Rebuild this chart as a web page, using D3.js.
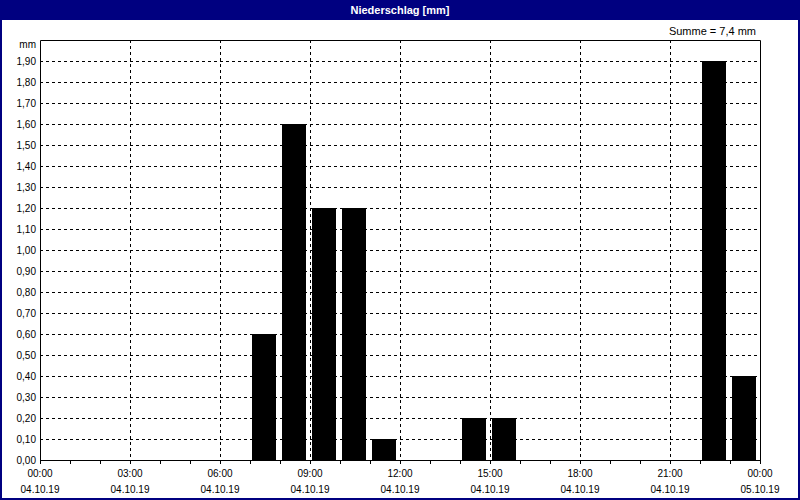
<!DOCTYPE html>
<html><head><meta charset="utf-8">
<script src="https://cdn.jsdelivr.net/npm/d3@7"></script>
<style>body{margin:0;background:#fff}svg{display:block}text{font-family:"Liberation Sans",Arial,sans-serif}</style>
</head><body><svg id="c" width="800" height="500"></svg>
<script>
const hours = [0,1,2,3,4,5,6,7,8,9,10,11,12,13,14,15,16,17,18,19,20,21,22,23];
const values = [0,0,0,0,0,0,0,0.6,1.6,1.2,1.2,0.1,0,0,0.2,0.2,0,0,0,0,0,0,1.9,0.4];
const xTickTimes = ["00:00","03:00","06:00","09:00","12:00","15:00","18:00","21:00","00:00"];
const xTickDates = ["04.10.19","04.10.19","04.10.19","04.10.19","04.10.19","04.10.19","04.10.19","04.10.19","05.10.19"];
const yTicks = d3.range(0, 20).map(i => i / 10);
const title = "Niederschlag [mm]";
const unit = "mm";
const sumText = "Summe = 7,4 mm";

const svg = d3.select("#c");
const L = 40, R = 760, T = 40, B = 460;
const x = d3.scaleLinear().domain([0, 24]).range([L, R]);
const y = d3.scaleLinear().domain([0, 2.0]).range([B, T]);

// frame
svg.append("rect").attr("x",1).attr("y",1).attr("width",798).attr("height",498)
  .attr("fill","#fff").attr("stroke","#000080").attr("stroke-width",2);
svg.append("rect").attr("x",0).attr("y",0).attr("width",800).attr("height",20).attr("fill","#000080");
svg.append("text").attr("x",400).attr("y",14).attr("text-anchor","middle")
  .attr("fill","#fff").attr("font-size",11).attr("font-weight","bold").text(title);
svg.append("text").attr("x",756).attr("y",35).attr("text-anchor","end")
  .attr("font-size",11).text(sumText);

// grid
const fmt = v => d3.format(".2f")(v).replace(".", ",");
svg.append("g").selectAll("line").data(yTicks.filter(d => d > 0)).join("line")
  .attr("x1",L).attr("x2",R).attr("y1",d=>Math.round(y(d))+0.5).attr("y2",d=>Math.round(y(d))+0.5)
  .attr("stroke","#000").attr("stroke-dasharray","3,3");
svg.append("g").selectAll("line").data(d3.range(3,24,3)).join("line")
  .attr("x1",d=>Math.round(x(d))+0.5).attr("x2",d=>Math.round(x(d))+0.5).attr("y1",T).attr("y2",B)
  .attr("stroke","#000").attr("stroke-dasharray","3,3");

// bars
svg.append("g").selectAll("rect").data(hours.filter((h,i)=>values[i]>0)).join("rect")
  .attr("x",h=>x(h)+2).attr("width",24)
  .attr("y",h=>y(values[h])).attr("height",h=>B-y(values[h]))
  .attr("fill","#000");

// axes box
svg.append("path").attr("d",`M${L+0.5},${T+0.5}H${R+0.5}V${B+0.5}H${L+0.5}Z`)
  .attr("fill","none").attr("stroke","#000");

// y labels
svg.append("g").selectAll("text").data(yTicks).join("text")
  .attr("x",36).attr("y",d=>y(d)+4).attr("text-anchor","end").attr("font-size",10).text(fmt);
svg.append("text").attr("x",36).attr("y",48).attr("text-anchor","end").attr("font-size",10).text(unit);

// x ticks
svg.append("g").selectAll("line").data(d3.range(0,25)).join("line")
  .attr("x1",d=>Math.round(x(d))+0.5).attr("x2",d=>Math.round(x(d))+0.5).attr("y1",B).attr("y2",B+4)
  .attr("stroke","#000");
const xt = svg.append("g").selectAll("g").data(xTickTimes).join("g")
  .attr("transform",(d,i)=>`translate(${x(i*3)},0)`);
xt.append("text").attr("y",477).attr("text-anchor","middle").attr("font-size",10).text(d=>d);
xt.append("text").attr("y",493).attr("text-anchor","middle").attr("font-size",10).text((d,i)=>xTickDates[i]);
</script></body></html>
